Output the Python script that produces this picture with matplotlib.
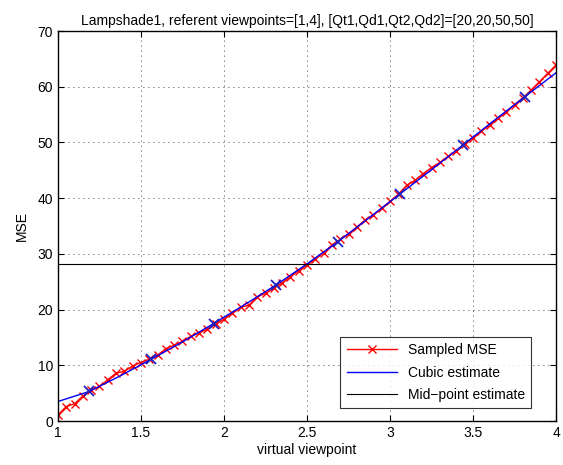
import matplotlib.pyplot as plt
import numpy as np

plt.rcParams['font.family'] = ['Liberation Sans', 'DejaVu Sans']

# sampled MSE, one value every 0.05 between the two referent viewpoints
sampled_x = np.linspace(1, 4, 61)
sampled_mse = [1.1, 2.6, 3.1, 4.5, 5.6, 6.2, 7.4, 8.6, 8.9, 9.9,
               10.5, 11.1, 11.8, 13.0, 13.6, 14.3, 15.2, 15.8, 16.5, 17.4,
               18.3, 19.3, 20.4, 20.8, 22.3, 22.9, 23.9, 24.8, 25.9, 27.0,
               28.0, 29.1, 30.2, 31.6, 32.6, 33.6, 34.8, 36.1, 37.0, 38.2,
               39.4, 40.7, 42.3, 43.2, 44.4, 45.5, 46.4, 47.5, 48.5, 49.8,
               50.8, 52.0, 53.1, 54.3, 55.5, 56.8, 58.0, 59.4, 60.9, 62.4,
               63.9]

# cubic estimate
cubic_x = [1.0, 1.1875, 1.375, 1.5625, 1.75, 1.9375, 2.125, 2.3125, 2.5,
           2.6875, 2.875, 3.0625, 3.25, 3.4375, 3.625, 3.8125, 4.0]
cubic_mse = [3.5, 5.3, 8.1, 11.1, 14.2, 17.5, 20.9, 24.4, 28.2,
             32.2, 36.5, 40.8, 45.1, 49.5, 53.9, 58.2, 62.5]

# points marked on the cubic
marked_x = [1.1875, 1.5625, 1.9375, 2.3125, 2.6875, 3.0625, 3.4375, 3.8125]
marked_mse = [5.3, 11.1, 17.5, 24.4, 32.2, 40.8, 49.5, 58.2]

midpoint_mse = 28.2

fig = plt.figure(figsize=(5.63, 4.65), dpi=100)
ax = fig.add_axes([0.103, 0.0946, 0.8846, 0.8387])

ax.plot(sampled_x, sampled_mse, 'r-x', lw=1.0, markersize=6, label='Sampled MSE')
ax.plot(cubic_x, cubic_mse, 'b-', lw=1.0, label='Cubic estimate')
ax.axhline(midpoint_mse, color='k', lw=0.8, label='Mid\u2212point estimate')
ax.plot(marked_x, marked_mse, 'x', color='#2020c0', markersize=6.5, mew=1.3)

ax.set_xlim(1, 4)
ax.set_ylim(0, 70)
ax.set_xticks([1, 1.5, 2, 2.5, 3, 3.5, 4])
ax.set_xticklabels(['1', '1.5', '2', '2.5', '3', '3.5', '4'])
ax.set_yticks(range(0, 71, 10))
ax.tick_params(direction='in', top=True, right=True, labelsize=10, length=4)
ax.grid(True, linestyle=(0, (1, 5)), color='k', lw=0.6)
for s in ax.spines.values():
    s.set_linewidth(1.0)

ax.set_xlabel('virtual viewpoint', fontsize=10, labelpad=2)
ax.set_ylabel('MSE', fontsize=10, labelpad=6)
ax.set_title('Lampshade1, referent viewpoints=[1,4], [Qt1,Qd1,Qt2,Qd2]=[20,20,50,50]',
             fontsize=10, pad=4)

leg = ax.legend(loc='lower right', bbox_to_anchor=(0.95, 0.033), fontsize=10,
                fancybox=False, edgecolor='k', handlelength=3.6,
                borderaxespad=0, labelspacing=0.6, borderpad=0.45)
leg.get_frame().set_linewidth(0.8)

plt.savefig('out.png', dpi=100)
